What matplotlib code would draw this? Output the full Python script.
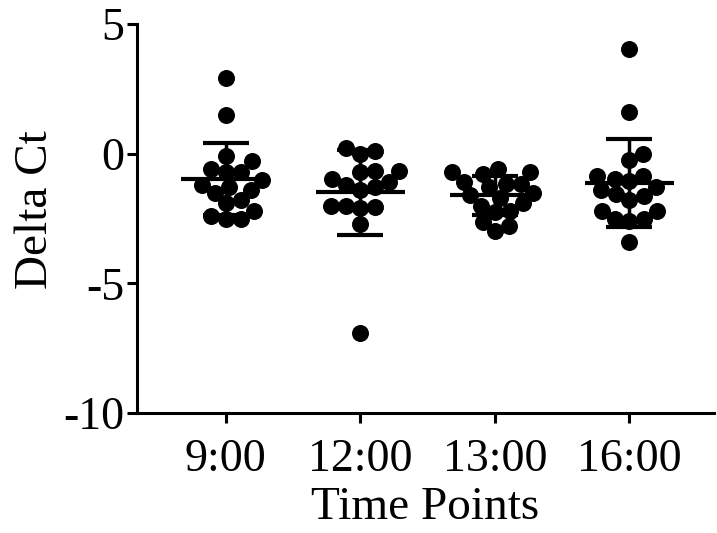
import matplotlib.pyplot as plt
import numpy as np

plt.rcParams['font.family'] = ['Liberation Serif', 'DejaVu Serif']

# data
labels = ['9:00', '12:00', '13:00', '16:00']
g_0900 = [2.9, 1.5, -0.1, -0.3, -0.6, -0.7, -0.7, -1.0, -1.2, -1.3, -1.4,
          -1.5, -1.8, -1.9, -2.2, -2.5, -2.5, -2.4]
g_1200 = [0.2, 0.1, 0.0, -0.65, -0.65, -0.7, -0.97, -1.1, -1.2, -1.3, -1.4,
          -2.0, -2.0, -2.05, -2.1, -2.7, -6.9]
g_1300 = [-0.58, -0.7, -0.7, -0.77, -1.08, -1.16, -1.16, -1.3, -1.5, -1.6,
          -1.7, -1.9, -2.0, -2.2, -2.24, -2.63, -2.78, -2.97]
g_1600 = [4.05, 1.6, 0.0, -0.25, -0.85, -0.85, -0.97, -1.05, -1.3, -1.4,
          -1.55, -1.65, -1.8, -2.2, -2.2, -2.5, -2.5, -2.6, -3.4]
groups = [g_0900, g_1200, g_1300, g_1600]

# pixel scale of the axes, used for the swarm layout
px_x = 134.7   # px per category
px_y = 25.9    # px per y unit
diam = 15.0    # spacing between dot centres, px


def swarm(vals):
    # simple beeswarm: put each point as close to the centre as it fits
    vals = np.asarray(vals)
    order = np.argsort(vals)
    placed = []
    offs = np.zeros(len(vals))
    for i in order:
        y = vals[i] * px_y
        cands = [0.0]
        for (xj, yj) in placed:
            dy = abs(y - yj)
            if dy < diam:
                dx = np.sqrt(diam ** 2 - dy ** 2)
                cands += [xj + dx, xj - dx]
        cands = sorted(cands, key=abs)
        for c in cands:
            ok = True
            for (xj, yj) in placed:
                if (c - xj) ** 2 + (y - yj) ** 2 < diam ** 2 - 1e-6:
                    ok = False
                    break
            if ok:
                break
        placed.append((c, y))
        offs[i] = c / px_x
    return offs


fig = plt.figure(figsize=(7.17, 5.33), dpi=100)
ax = fig.add_axes([0.191, 0.225, 0.805, 0.730])

for i, g in enumerate(groups):
    g = np.array(g)
    xs = i + swarm(g)
    ax.scatter(xs, g, s=150, color='black', zorder=3, linewidths=0)
    m = g.mean()
    sd = g.std(ddof=1)
    ax.hlines(m, i - 0.33, i + 0.33, color='black', lw=3, zorder=4)
    ax.vlines(i, m - sd, m + sd, color='black', lw=2.5, zorder=4)
    ax.hlines([m - sd, m + sd], i - 0.17, i + 0.17, color='black', lw=3, zorder=4)

ax.set_xlim(-0.66, 3.63)
ax.set_ylim(-10, 5)
ax.set_yticks([-10, -5, 0, 5])
ax.set_yticklabels(['-10', '-5', '0', '5'])
ax.set_xticks(range(len(labels)))
ax.set_xticklabels(labels)

for s in ['top', 'right']:
    ax.spines[s].set_visible(False)
for s in ['left', 'bottom']:
    ax.spines[s].set_linewidth(2.2)
ax.tick_params(axis='both', width=2.2, length=7, labelsize=33)
ax.tick_params(axis='y', pad=2)
ax.tick_params(axis='x', pad=11)

ax.set_xlabel('Time Points', fontsize=34, labelpad=4)
ax.set_ylabel('Delta Ct', fontsize=34)
ax.yaxis.set_label_coords(-0.139, 0.522)

fig.savefig('out.png', dpi=100)
